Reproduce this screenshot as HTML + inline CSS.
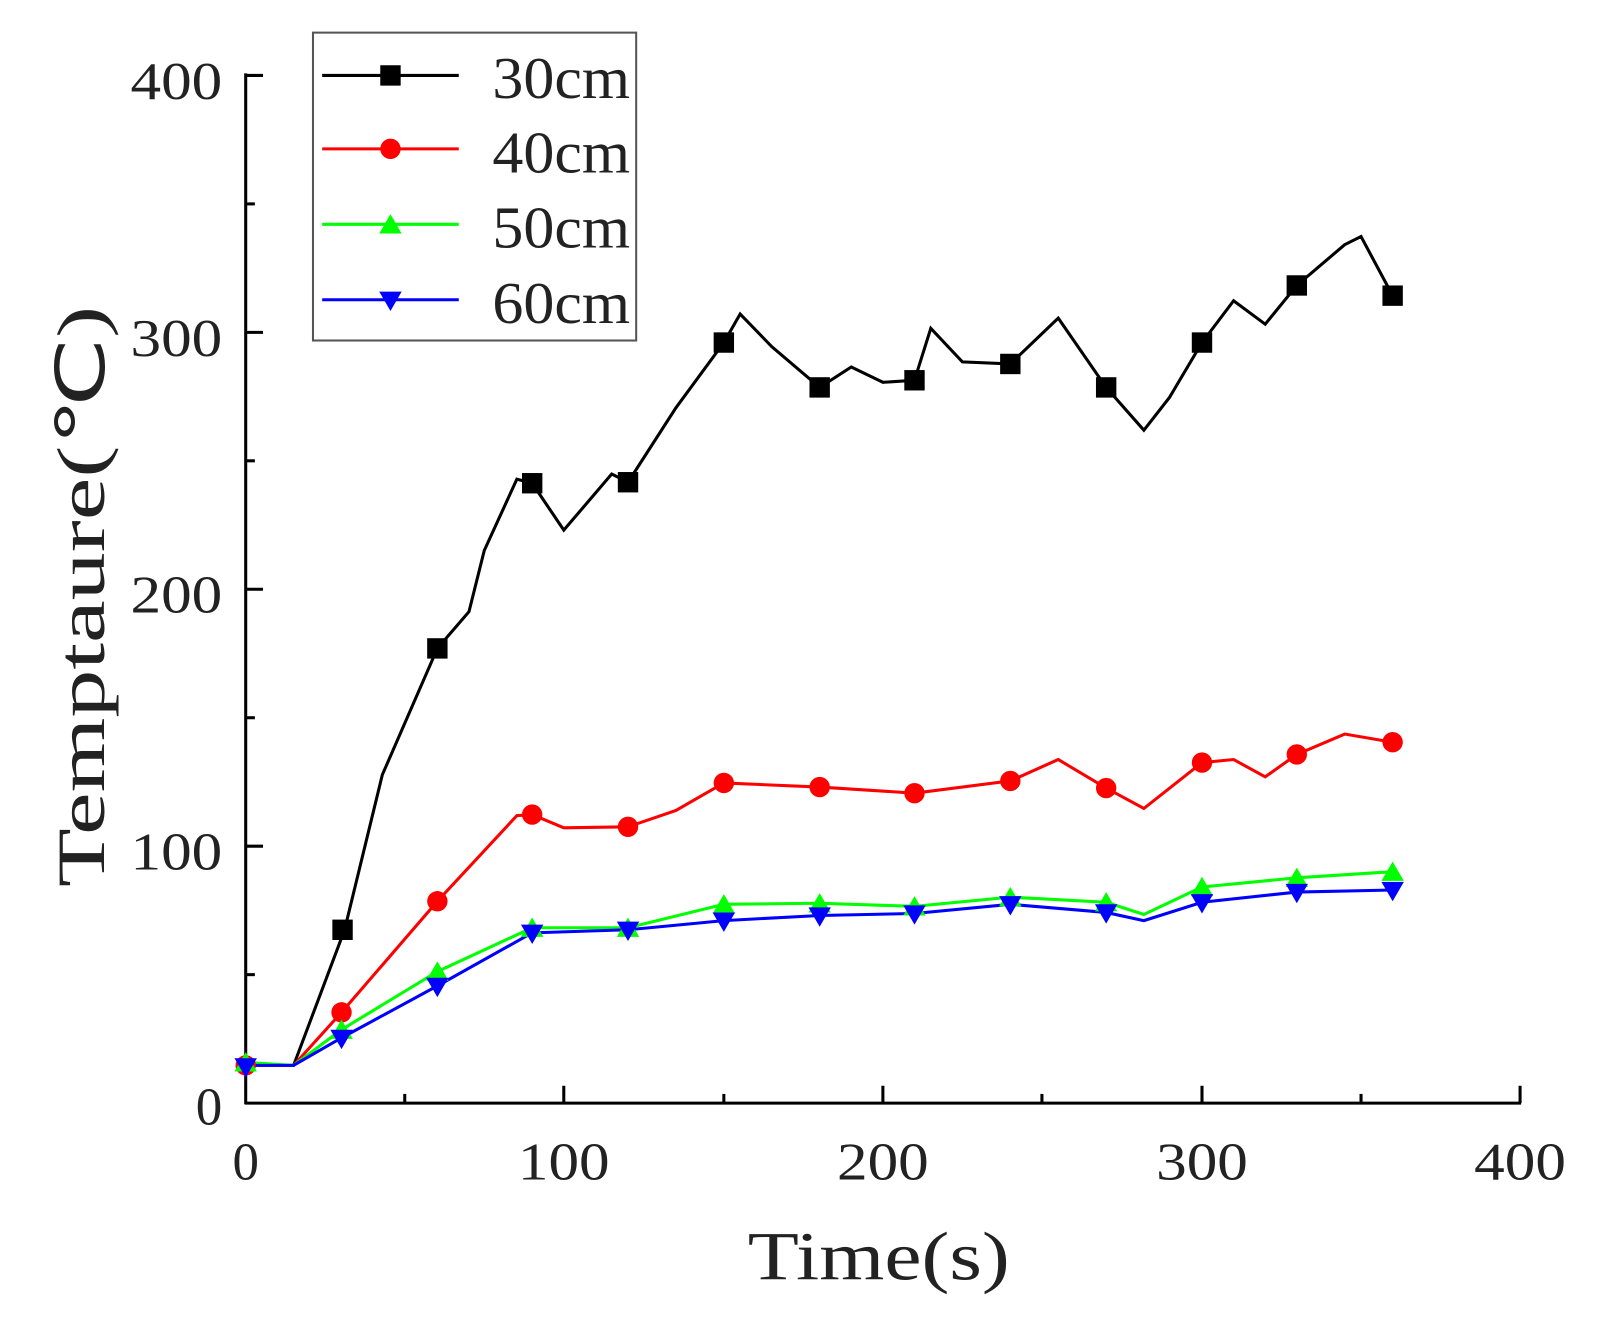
<!DOCTYPE html>
<html><head><meta charset="utf-8"><style>html,body{margin:0;padding:0;background:#fff;overflow:hidden;width:1598px;height:1322px}svg{display:block}</style></head>
<body>
<svg width="1598" height="1322" viewBox="0 0 1598 1322" xmlns="http://www.w3.org/2000/svg" font-family="Liberation Serif, serif">
<rect width="1598" height="1322" fill="#fff"/>
<g transform="scale(1.0195)">
<g stroke="#000" stroke-width="3" fill="none">
<line x1="241" y1="72" x2="241" y2="1083"/>
<line x1="240" y1="1082" x2="1492" y2="1082"/>
<line x1="241" y1="74" x2="258" y2="74"/><line x1="241" y1="200" x2="250" y2="200"/>
<line x1="241" y1="326" x2="258" y2="326"/><line x1="241" y1="452" x2="250" y2="452"/>
<line x1="241" y1="578" x2="258" y2="578"/><line x1="241" y1="704" x2="250" y2="704"/>
<line x1="241" y1="830" x2="258" y2="830"/><line x1="241" y1="956" x2="250" y2="956"/>
<line x1="397" y1="1082" x2="397" y2="1073"/><line x1="553" y1="1082" x2="553" y2="1065"/>
<line x1="710" y1="1082" x2="710" y2="1073"/><line x1="866" y1="1082" x2="866" y2="1065"/>
<line x1="1022" y1="1082" x2="1022" y2="1073"/><line x1="1179" y1="1082" x2="1179" y2="1065"/>
<line x1="1335" y1="1082" x2="1335" y2="1073"/><line x1="1491" y1="1082" x2="1491" y2="1065"/>
</g>
<g font-size="52" fill="#222" text-anchor="end">
<text x="218" y="97" textLength="90" lengthAdjust="spacingAndGlyphs">400</text><text x="218" y="349" textLength="90" lengthAdjust="spacingAndGlyphs">300</text><text x="218" y="601" textLength="90" lengthAdjust="spacingAndGlyphs">200</text><text x="218" y="853" textLength="90" lengthAdjust="spacingAndGlyphs">100</text><text x="218" y="1103">0</text>
</g>
<g font-size="52" fill="#222" text-anchor="middle">
<text x="241" y="1157">0</text><text x="553" y="1157" textLength="90" lengthAdjust="spacingAndGlyphs">100</text><text x="866" y="1157" textLength="90" lengthAdjust="spacingAndGlyphs">200</text><text x="1179" y="1157" textLength="90" lengthAdjust="spacingAndGlyphs">300</text><text x="1491" y="1157" textLength="90" lengthAdjust="spacingAndGlyphs">400</text>
</g>
<text x="862" y="1255" font-size="68" text-anchor="middle" fill="#222" textLength="257" lengthAdjust="spacingAndGlyphs">Time(s)</text>
<text transform="translate(102,585) rotate(-90)" font-size="66" text-anchor="middle" fill="#222" textLength="570" lengthAdjust="spacingAndGlyphs">Temptaure(℃)</text>
<polyline fill="none" stroke="#000" stroke-width="3" points="241,1045 288,1045 338,912 375,760 429,636 460,600 475,540 507,470 522,474 553,520 600,465 616,473 663,400 710,336 726,308 757,340 804,380 835,360 866,375 897,373 913,322 944,355 991,357 1038,312 1085,380 1122,422 1147,390 1179,336 1210,295 1241,318 1272,280 1319,240 1335,232 1366,290"/>
<polyline fill="none" stroke="#f00" stroke-width="3" points="241,1045 288,1045 335,993 429,884 507,800 522,799 553,812 616,811 663,795 710,768 804,772 897,778 991,766 1038,745 1085,773 1122,793 1179,748 1210,745 1241,762 1272,740 1319,720 1366,728"/>
<polyline fill="none" stroke="#0f0" stroke-width="3" points="241,1042 288,1045 335,1010 429,953 522,910 616,910 710,887 804,886 897,889 991,880 1085,885 1122,897 1179,870 1272,861 1366,855"/>
<polyline fill="none" stroke="#00f" stroke-width="3" points="241,1045 288,1045 335,1018 429,967 522,915 616,912 710,903 804,898 897,896 991,887 1085,895 1122,903 1179,885 1272,875 1366,873"/>
<g fill="#000">
<rect x="326" y="902" width="20" height="20"/><rect x="419" y="626" width="20" height="20"/><rect x="512" y="464" width="20" height="20"/><rect x="606" y="463" width="20" height="20"/><rect x="700" y="326" width="20" height="20"/><rect x="794" y="370" width="20" height="20"/><rect x="887" y="363" width="20" height="20"/><rect x="981" y="347" width="20" height="20"/><rect x="1075" y="370" width="20" height="20"/><rect x="1169" y="326" width="20" height="20"/><rect x="1262" y="270" width="20" height="20"/><rect x="1356" y="280" width="20" height="20"/>
</g>
<g fill="#f00">
<circle cx="241" cy="1045" r="10"/><circle cx="335" cy="993" r="10"/><circle cx="429" cy="884" r="10"/><circle cx="522" cy="799" r="10"/><circle cx="616" cy="811" r="10"/><circle cx="710" cy="768" r="10"/><circle cx="804" cy="772" r="10"/><circle cx="897" cy="778" r="10"/><circle cx="991" cy="766" r="10"/><circle cx="1085" cy="773" r="10"/><circle cx="1179" cy="748" r="10"/><circle cx="1272" cy="740" r="10"/><circle cx="1366" cy="728" r="10"/>
</g>
<g fill="#0f0">
<polygon points="241,1032 252,1051 230,1051"/><polygon points="335,1000 346,1019 324,1019"/><polygon points="429,943 440,962 418,962"/><polygon points="522,900 533,919 511,919"/><polygon points="616,900 627,919 605,919"/><polygon points="710,877 721,896 699,896"/><polygon points="804,876 815,895 793,895"/><polygon points="897,879 908,898 886,898"/><polygon points="991,870 1002,889 980,889"/><polygon points="1085,875 1096,894 1074,894"/><polygon points="1179,860 1190,879 1168,879"/><polygon points="1272,851 1283,870 1261,870"/><polygon points="1366,845 1377,864 1355,864"/>
</g>
<g fill="#00f">
<polygon points="230,1038 252,1038 241,1057"/><polygon points="324,1010 346,1010 335,1029"/><polygon points="418,959 440,959 429,978"/><polygon points="511,907 533,907 522,926"/><polygon points="605,904 627,904 616,923"/><polygon points="699,895 721,895 710,914"/><polygon points="793,890 815,890 804,909"/><polygon points="886,888 908,888 897,907"/><polygon points="980,879 1002,879 991,898"/><polygon points="1074,887 1096,887 1085,906"/><polygon points="1168,877 1190,877 1179,896"/><polygon points="1261,867 1283,867 1272,886"/><polygon points="1355,865 1377,865 1366,884"/>
</g>
<rect x="307" y="32" width="317" height="302" fill="#fff" stroke="#555" stroke-width="2"/>
<line x1="316" y1="74" x2="450" y2="74" stroke="#000" stroke-width="3"/><rect x="373" y="64" width="20" height="20" fill="#000"/>
<line x1="316" y1="146" x2="450" y2="146" stroke="#f00" stroke-width="3"/><circle cx="383" cy="146" r="10" fill="#f00"/>
<line x1="316" y1="220" x2="450" y2="220" stroke="#0f0" stroke-width="3"/><polygon points="383,210 394,229 372,229" fill="#0f0"/>
<line x1="316" y1="294" x2="450" y2="294" stroke="#00f" stroke-width="3"/><polygon points="372,286 394,286 383,305" fill="#00f"/>
<g font-size="58" fill="#222">
<text x="483" y="96" textLength="135" lengthAdjust="spacingAndGlyphs">30cm</text><text x="483" y="169" textLength="135" lengthAdjust="spacingAndGlyphs">40cm</text><text x="483" y="243" textLength="135" lengthAdjust="spacingAndGlyphs">50cm</text><text x="483" y="317" textLength="135" lengthAdjust="spacingAndGlyphs">60cm</text>
</g>
</g>
</svg>
</body></html>
